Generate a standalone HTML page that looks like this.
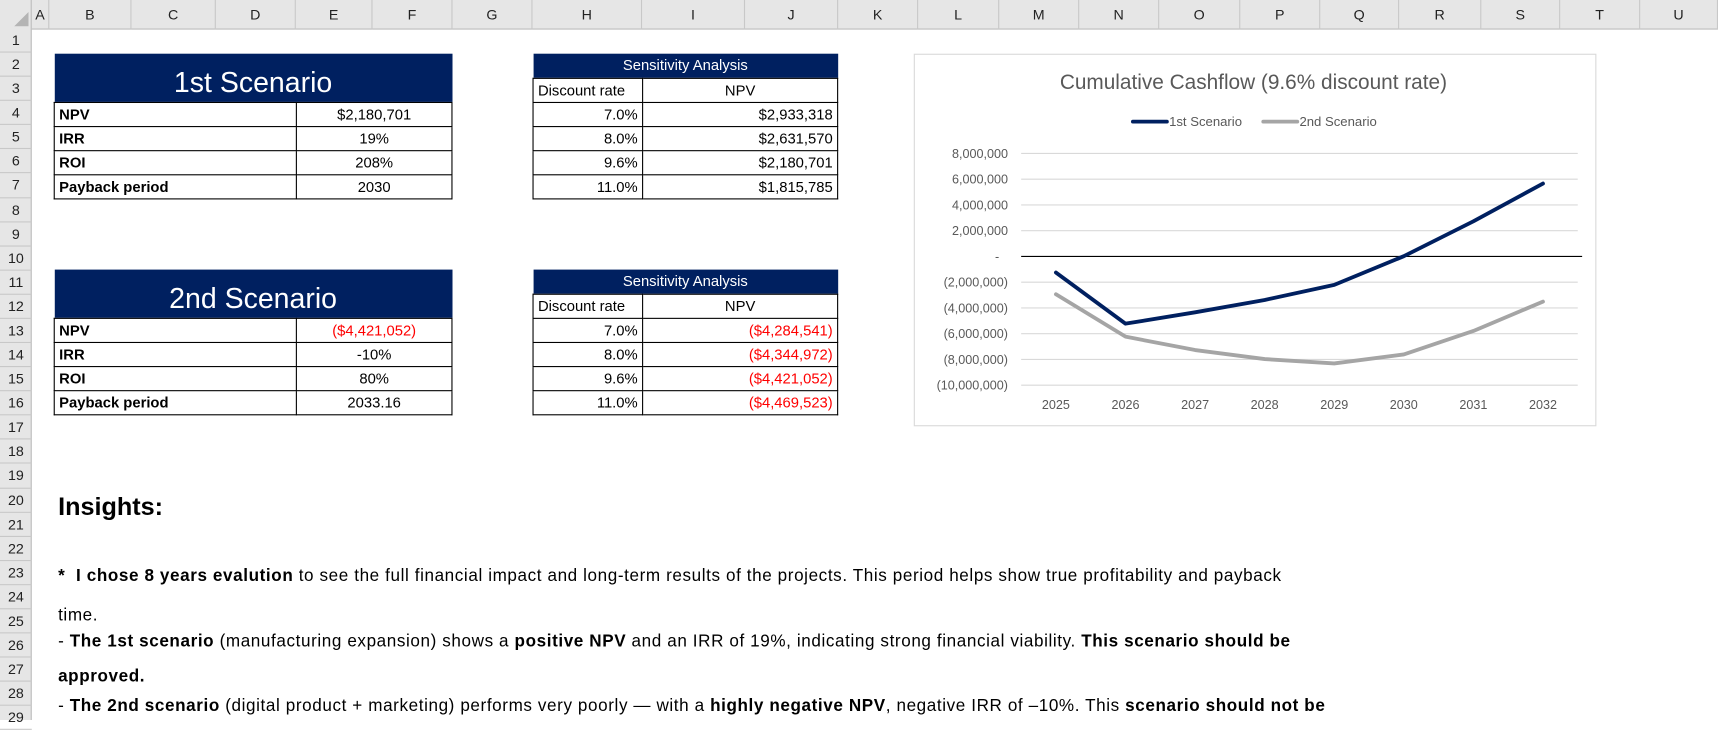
<!DOCTYPE html>
<html><head><meta charset="utf-8"><style>
html,body{margin:0;padding:0;background:#fff;width:1718px;height:720px;overflow:hidden}
#wrap{position:absolute;left:0;top:0;width:1568px;height:657px;transform-origin:0 0;transform:scale(1.09566,1.09589);font-family:"Liberation Sans",sans-serif;color:#000}
.abs{position:absolute;box-sizing:border-box}
.colh{position:absolute;top:0;height:27px;border-right:1px solid #c8c8c8;text-align:center;font-size:13px;line-height:27px;color:#222;box-sizing:border-box}
.rowh{position:absolute;left:0;width:29px;border-bottom:1px solid #c8c8c8;text-align:center;font-size:13px;color:#222;box-sizing:border-box}
table{border-collapse:collapse;position:absolute;font-size:13.5px}
td{border:1px solid #000;padding:0 4px;height:22px;box-sizing:border-box;white-space:nowrap}
.hd{background:#002060;color:#fff;text-align:center;border:none}
.red{color:#ff0000}
.txt{position:absolute;left:53px;font-size:15.6px;letter-spacing:0.55px;white-space:nowrap}
</style></head><body>
<div id="wrap">
<div class="abs" style="left:0;top:0;width:1568px;height:27px;background:#e6e6e6;border-bottom:1px solid #bdbdbd"></div>
<div class="abs" style="left:0;top:0;width:29px;height:657px;background:#e6e6e6;border-right:1px solid #bdbdbd"></div>
<div class="abs" style="left:13px;top:11px;width:0;height:0;border-left:13px solid transparent;border-bottom:13px solid #b4b4b4"></div>
<div id="cols"></div><div id="rows"></div>

<table style="left:49px;top:49px;width:364px">
<tr><td class="hd" colspan="2" style="height:44px;font-size:26px;padding-top:10px">1st Scenario</td></tr>
<tr><td style="width:221px"><b>NPV</b></td><td style="text-align:center">$2,180,701</td></tr>
<tr><td><b>IRR</b></td><td style="text-align:center">19%</td></tr>
<tr><td><b>ROI</b></td><td style="text-align:center">208%</td></tr>
<tr><td><b>Payback period</b></td><td style="text-align:center">2030</td></tr>
</table>
<table style="left:486px;top:49px;width:279px">
<tr><td class="hd" colspan="2">Sensitivity Analysis</td></tr>
<tr><td style="width:100px">Discount rate</td><td style="text-align:center">NPV</td></tr>
<tr><td style="text-align:right">7.0%</td><td style="text-align:right">$2,933,318</td></tr>
<tr><td style="text-align:right">8.0%</td><td style="text-align:right">$2,631,570</td></tr>
<tr><td style="text-align:right">9.6%</td><td style="text-align:right">$2,180,701</td></tr>
<tr><td style="text-align:right">11.0%</td><td style="text-align:right">$1,815,785</td></tr>
</table>
<table style="left:49px;top:246px;width:364px">
<tr><td class="hd" colspan="2" style="height:44px;font-size:26px;padding-top:10px">2nd Scenario</td></tr>
<tr><td style="width:221px"><b>NPV</b></td><td class="red" style="text-align:center">($4,421,052)</td></tr>
<tr><td><b>IRR</b></td><td style="text-align:center">-10%</td></tr>
<tr><td><b>ROI</b></td><td style="text-align:center">80%</td></tr>
<tr><td><b>Payback period</b></td><td style="text-align:center">2033.16</td></tr>
</table>
<table style="left:486px;top:246px;width:279px">
<tr><td class="hd" colspan="2">Sensitivity Analysis</td></tr>
<tr><td style="width:100px">Discount rate</td><td style="text-align:center">NPV</td></tr>
<tr><td style="text-align:right">7.0%</td><td class="red" style="text-align:right">($4,284,541)</td></tr>
<tr><td style="text-align:right">8.0%</td><td class="red" style="text-align:right">($4,344,972)</td></tr>
<tr><td style="text-align:right">9.6%</td><td class="red" style="text-align:right">($4,421,052)</td></tr>
<tr><td style="text-align:right">11.0%</td><td class="red" style="text-align:right">($4,469,523)</td></tr>
</table>

<svg id="chart" class="abs" style="left:0;top:0" width="1568" height="657"></svg>

<div class="abs" style="left:53px;top:449px;font-size:23px;font-weight:bold">Insights:</div>
<div class="txt" style="top:517px"><b>*&nbsp; I chose 8 years evalution</b> to see the full financial impact and long-term results of the projects. This period helps show true profitability and payback</div>
<div class="txt" style="top:553px">time.</div>
<div class="txt" style="top:577px">- <b>The 1st scenario</b> (manufacturing expansion) shows a <b>positive NPV</b> and an IRR of 19%, indicating strong financial viability. <b>This scenario should be</b></div>
<div class="txt" style="top:609px"><b>approved.</b></div>
<div class="txt" style="top:636px">- <b>The 2nd scenario</b> (digital product + marketing) performs very poorly — with a <b>highly negative NPV</b>, negative IRR of –10%. This <b>scenario should not be</b></div>
</div>
<script>
const years = ["2025","2026","2027","2028","2029","2030","2031","2032"];
const scenario1 = [-1.25,-5.22,-4.34,-3.38,-2.21,0.02,2.73,5.66];
const scenario2 = [-2.94,-6.23,-7.27,-7.97,-8.31,-7.61,-5.79,-3.51];
const yTicks = [8,6,4,2,0,-2,-4,-6,-8,-10];
const yTickLabels = ["8,000,000","6,000,000","4,000,000","2,000,000","-","(2,000,000)","(4,000,000)","(6,000,000)","(8,000,000)","(10,000,000)"];

const NS="http://www.w3.org/2000/svg";
const svg=document.getElementById('chart');
function mk(t,a,p){const e=document.createElementNS(NS,t);for(const k in a)e.setAttribute(k,a[k]);(p||svg).appendChild(e);return e;}
const px0=932,px1=1440,zeroY=234,perM=11.75;
const yS=v=>zeroY-v*perM;
const xS=i=>px0+(px1-px0)/years.length*(i+0.5);

const box=mk('rect',{x:834.5,y:49.5,width:622,height:339,fill:'#fff',stroke:'#d9d9d9'});


const title=mk('text',{x:1144,y:81,'text-anchor':'middle','font-size':19,fill:'#595959','font-family':'Liberation Sans, sans-serif'});
title.textContent='Cumulative Cashflow (9.6% discount rate)';



yTicks.forEach((v,i)=>{
  const y=yS(v);
  if(v!==0){const g=mk('line',{x1:px0,x2:px1,y1:y,y2:y,stroke:'#d9d9d9','stroke-width':1});
  
  }
  const t=mk('text',{x:v===0?910:920,y:y+4,'text-anchor':v===0?'middle':'end','font-size':11.5,fill:'#595959','font-family':'Liberation Sans, sans-serif'});
  t.textContent=yTickLabels[i];
  
  
});
const zl=mk('line',{x1:px0,x2:1444,y1:zeroY,y2:zeroY,stroke:'#000','stroke-width':1});


years.forEach((yr,i)=>{
  const t=mk('text',{x:xS(i),y:373,'text-anchor':'middle','font-size':11.5,fill:'#595959','font-family':'Liberation Sans, sans-serif'});
  t.textContent=yr;
  
  
});
function series(vals,color,name){
  const p=mk('polyline',{points:vals.map((v,i)=>xS(i)+','+yS(v)).join(' '),fill:'none',stroke:color,'stroke-width':3.5,'stroke-linejoin':'round','stroke-linecap':'round'});
  
  
}
series(scenario2,'#a5a5a5','line-2nd-scenario');
series(scenario1,'#002060','line-1st-scenario');
[[1034,'#002060','1st Scenario'],[1153,'#a5a5a5','2nd Scenario']].forEach(([x,c,l])=>{
  const ln=mk('line',{x1:x,x2:x+31,y1:111,y2:111,stroke:c,'stroke-width':3.5,'stroke-linecap':'round'});
  
  
  const t=mk('text',{x:x+33,y:115,'font-size':12,fill:'#595959','font-family':'Liberation Sans, sans-serif'});
  t.textContent=l;
  
  
});

const colEdges=[29,45,120,197,270,340,413,486,586,680,765,838,912,985,1058,1132,1205,1277,1352,1424,1497,1568];
const colNames="ABCDEFGHIJKLMNOPQRSTU".split('');
const cols=document.getElementById('cols');
colNames.forEach((n,i)=>{
  const d=document.createElement('div');
  d.className='colh';
  d.style.left=colEdges[i]+'px';d.style.width=(colEdges[i+1]-colEdges[i])+'px';
  d.textContent=n;
  
  
  cols.appendChild(d);
});
const rows=document.getElementById('rows');
for(let r=1;r<=29;r++){
  const d=document.createElement('div');
  d.className='rowh';
  const top=26+(r-1)*22.08;
  d.style.top=top+'px';d.style.height='22.08px';d.style.lineHeight='22px';
  d.textContent=r;
  
  
  rows.appendChild(d);
}
</script>
</body></html>
